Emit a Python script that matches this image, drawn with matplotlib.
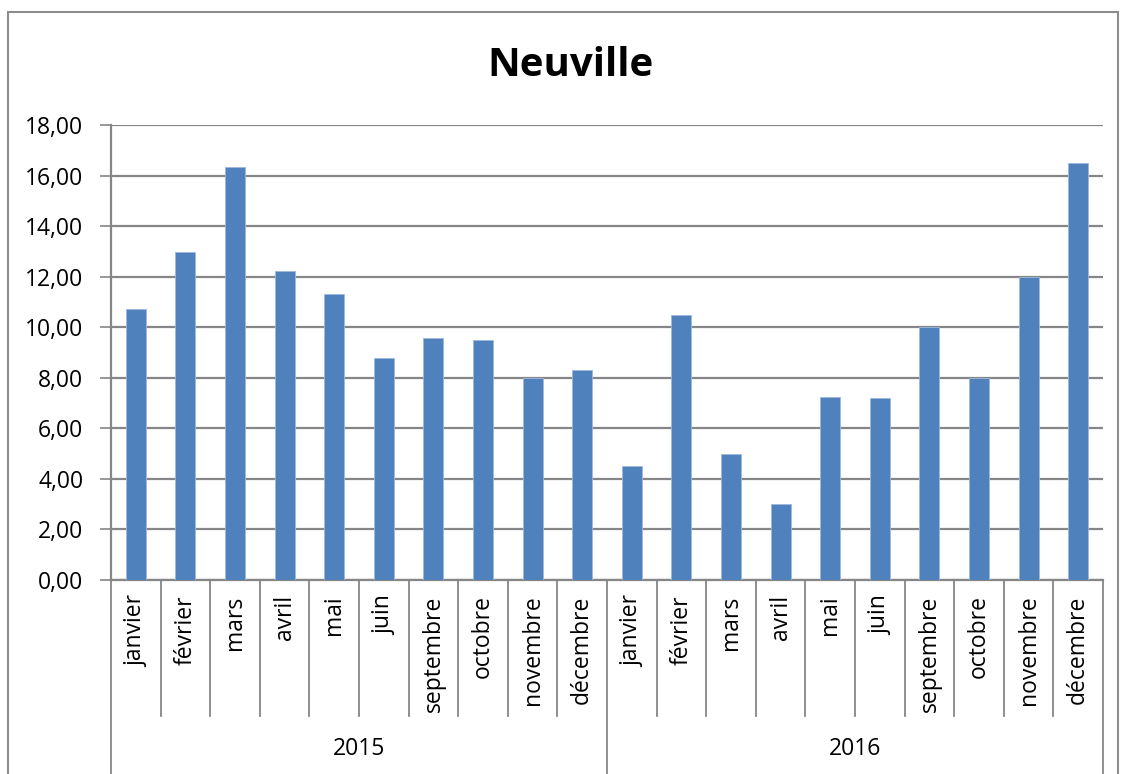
import matplotlib
matplotlib.use("Agg")
import matplotlib.pyplot as plt
from matplotlib.patches import Rectangle
import matplotlib.transforms as mtransforms

years = ["2015", "2016"]
months = ["janvier", "février", "mars", "avril", "mai", "juin",
          "septembre", "octobre", "novembre", "décembre"]
values_2015 = [10.72, 12.97, 16.32, 12.22, 11.30, 8.80, 9.58, 9.48, 8.00, 8.32]
values_2016 = [4.50, 10.48, 5.00, 3.00, 7.23, 7.19, 10.00, 8.00, 12.00, 16.48]
y_ticks = [0, 2, 4, 6, 8, 10, 12, 14, 16, 18]

plt.rcParams['font.family'] = ['Open Sans', 'DejaVu Sans']

W, H = 1121, 774
fig = plt.figure(figsize=(W / 100, H / 100), dpi=100)

grey = '#868686'
bar_color = '#4F81BD'
fs = 16.5

# outer chart border
fig.patches.append(Rectangle((8 / W, -0.05), (1118 - 8) / W, 1 - 12 / H + 0.05,
                             transform=fig.transFigure, fill=False,
                             edgecolor='#8c8c8c', linewidth=1.5))

left, right, top, bottom = 111, 1103, 125, 580
ax = fig.add_axes([left / W, 1 - bottom / H, (right - left) / W, (bottom - top) / H])

all_values = values_2015 + values_2016
labels = months + months
n = len(all_values)
x = [i + 0.5 for i in range(n)]
ax.bar(x, all_values, width=0.4, color=bar_color, edgecolor='#9db9dd',
       linewidth=0.6, zorder=3)

ax.set_xlim(0, n)
ax.set_ylim(0, 18)
ax.set_yticks(y_ticks)
ax.set_yticklabels([f"{v:.2f}".replace('.', ',') for v in y_ticks], fontsize=fs)
ax.yaxis.grid(True, color=grey, linewidth=1.6, zorder=0)
ax.set_axisbelow(True)
ax.tick_params(axis='y', length=8, width=1.2, color=grey, pad=12)

ax.set_xticks(x)
ax.set_xticklabels(labels, rotation=90, fontsize=fs, va='top', ha='center')
ax.tick_params(axis='x', length=0, pad=11)

for side in ['top', 'right']:
    ax.spines[side].set_visible(False)
for side in ['left', 'bottom']:
    ax.spines[side].set_color(grey)
    ax.spines[side].set_linewidth(1.6)

axh = bottom - top
trans = mtransforms.blended_transform_factory(ax.transData, ax.transAxes)
sep_bottom = -(716 - bottom) / axh
year_bottom = -(774 - bottom) / axh
for k in range(n + 1):
    yb = year_bottom if k % len(months) == 0 else sep_bottom
    ax.plot([k, k], [0, yb], transform=trans, color=grey, linewidth=1.3,
            clip_on=False)

for j, yr in enumerate(years):
    cx = j * len(months) + len(months) / 2
    ax.text(cx, -(749 - bottom) / axh, yr, transform=trans, ha='center',
            va='center', fontsize=fs)

fig.text(0.5 + 10 / W, 1 - 65 / H, "Neuville", ha='center', va='center',
         fontsize=29, fontweight='bold')

fig.savefig("out.png", dpi=100)
